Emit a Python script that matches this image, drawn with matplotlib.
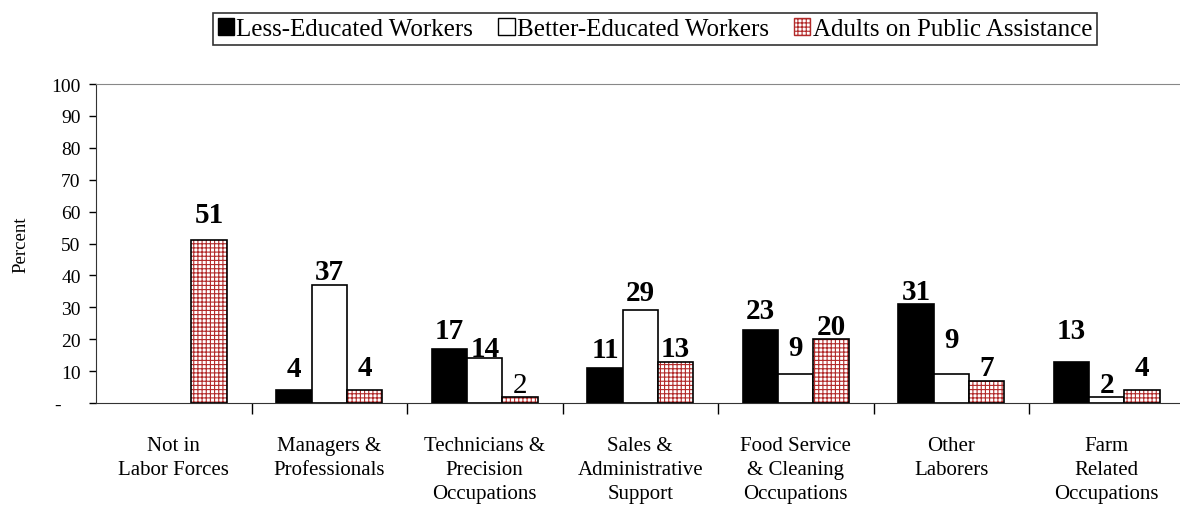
import numpy as np
import matplotlib
matplotlib.use("Agg")
import matplotlib.pyplot as plt
from matplotlib.patches import Patch

plt.rcParams['font.family'] = ['Liberation Serif', 'DejaVu Serif']
plt.rcParams['hatch.linewidth'] = 0.8

# ---------------- data ----------------
categories = ["Not in\nLabor Forces", "Managers &\nProfessionals",
              "Technicians &\nPrecision\nOccupations", "Sales &\nAdministrative\nSupport",
              "Food Service\n& Cleaning\nOccupations", "Other\nLaborers",
              "Farm\nRelated\nOccupations"]
less_educated = [None, 4, 17, 11, 23, 31, 13]
better_educated = [None, 37, 14, 29, 9, 9, 2]
public_assist = [51, 4, 2, 13, 20, 7, 4]
series_names = ["Less-Educated Workers", "Better-Educated Workers", "Adults on Public Assistance"]
ytick_vals = [0, 10, 20, 30, 40, 50, 60, 70, 80, 90, 100]
ytick_labels = ["-    ", "10", "20", "30", "40", "50", "60", "70", "80", "90", "100"]

# gap (pixels) between bar top and its value label, as in the original layout
gap_less = [0, 12, 9, 9, 10, 3, 22]
gap_better = [0, 4, 1, 9, 17, 25, 3]
gap_public = [16, 13, 3, 4, 3, 4, 13]

hatch_red = "#b22a2a"

fig = plt.figure(figsize=(11.8, 5.1), dpi=100)
ax = fig.add_axes([96 / 1180, 106 / 510, 7 * 155.5 / 1180, 319 / 510])

x = np.arange(len(categories)) + 0.5
w = 0.227


def label(ax, xc, val, gap, bold=True):
    ax.annotate(str(val), (xc, val), xytext=(0, gap * 0.72 - 3), textcoords="offset points",
                ha="center", va="bottom", fontsize=21,
                fontweight="bold" if bold else "normal")


for i in range(len(categories)):
    if less_educated[i] is not None:
        ax.bar(x[i] - w, less_educated[i], w, color="black", edgecolor="black", linewidth=1.2)
        label(ax, x[i] - w, less_educated[i], gap_less[i])
    if better_educated[i] is not None:
        ax.bar(x[i], better_educated[i], w, color="white", edgecolor="black", linewidth=1.2)
        label(ax, x[i], better_educated[i], gap_better[i])
    ax.bar(x[i] + w, public_assist[i], w, color="white", edgecolor=hatch_red, hatch="++++", linewidth=0)
    ax.bar(x[i] + w, public_assist[i], w, fill=False, edgecolor="black", linewidth=1.2)
    label(ax, x[i] + w, public_assist[i], gap_public[i], bold=(i != 2))

ax.set_xlim(0, 7)
ax.set_ylim(0, 100)
ax.set_yticks(ytick_vals)
ax.set_yticklabels(ytick_labels, fontsize=14)
ax.tick_params(axis="y", direction="out", length=5, width=1, pad=6)

ax.set_xticks(x)
ax.set_xticklabels(categories, fontsize=15, linespacing=1.35)
ax.set_xticks(np.arange(1, 7), minor=True)
ax.tick_params(axis="x", which="major", length=0, pad=24)
ax.tick_params(axis="x", which="minor", direction="out", length=8, width=1)

ax.set_ylabel("Percent", fontsize=13.5, labelpad=16)

ax.spines["right"].set_visible(False)
ax.spines["top"].set_color("#888888")
ax.spines["left"].set_color("#333333")
ax.spines["bottom"].set_color("#333333")

handles = [Patch(facecolor="black", edgecolor="black"),
           Patch(facecolor="white", edgecolor="black"),
           Patch(facecolor="white", edgecolor=hatch_red, hatch="++++")]
leg = fig.legend(handles, series_names, loc="center", bbox_to_anchor=(655 / 1180, 1 - 30 / 510),
                 ncol=3, fontsize=18, frameon=True, fancybox=False, handlelength=0.65,
                 handleheight=0.65, handletextpad=0.1, columnspacing=1.0, borderpad=0.2)
leg.get_frame().set_edgecolor("black")
leg.get_frame().set_linewidth(1.2)

fig.savefig("out.png", dpi=100)
